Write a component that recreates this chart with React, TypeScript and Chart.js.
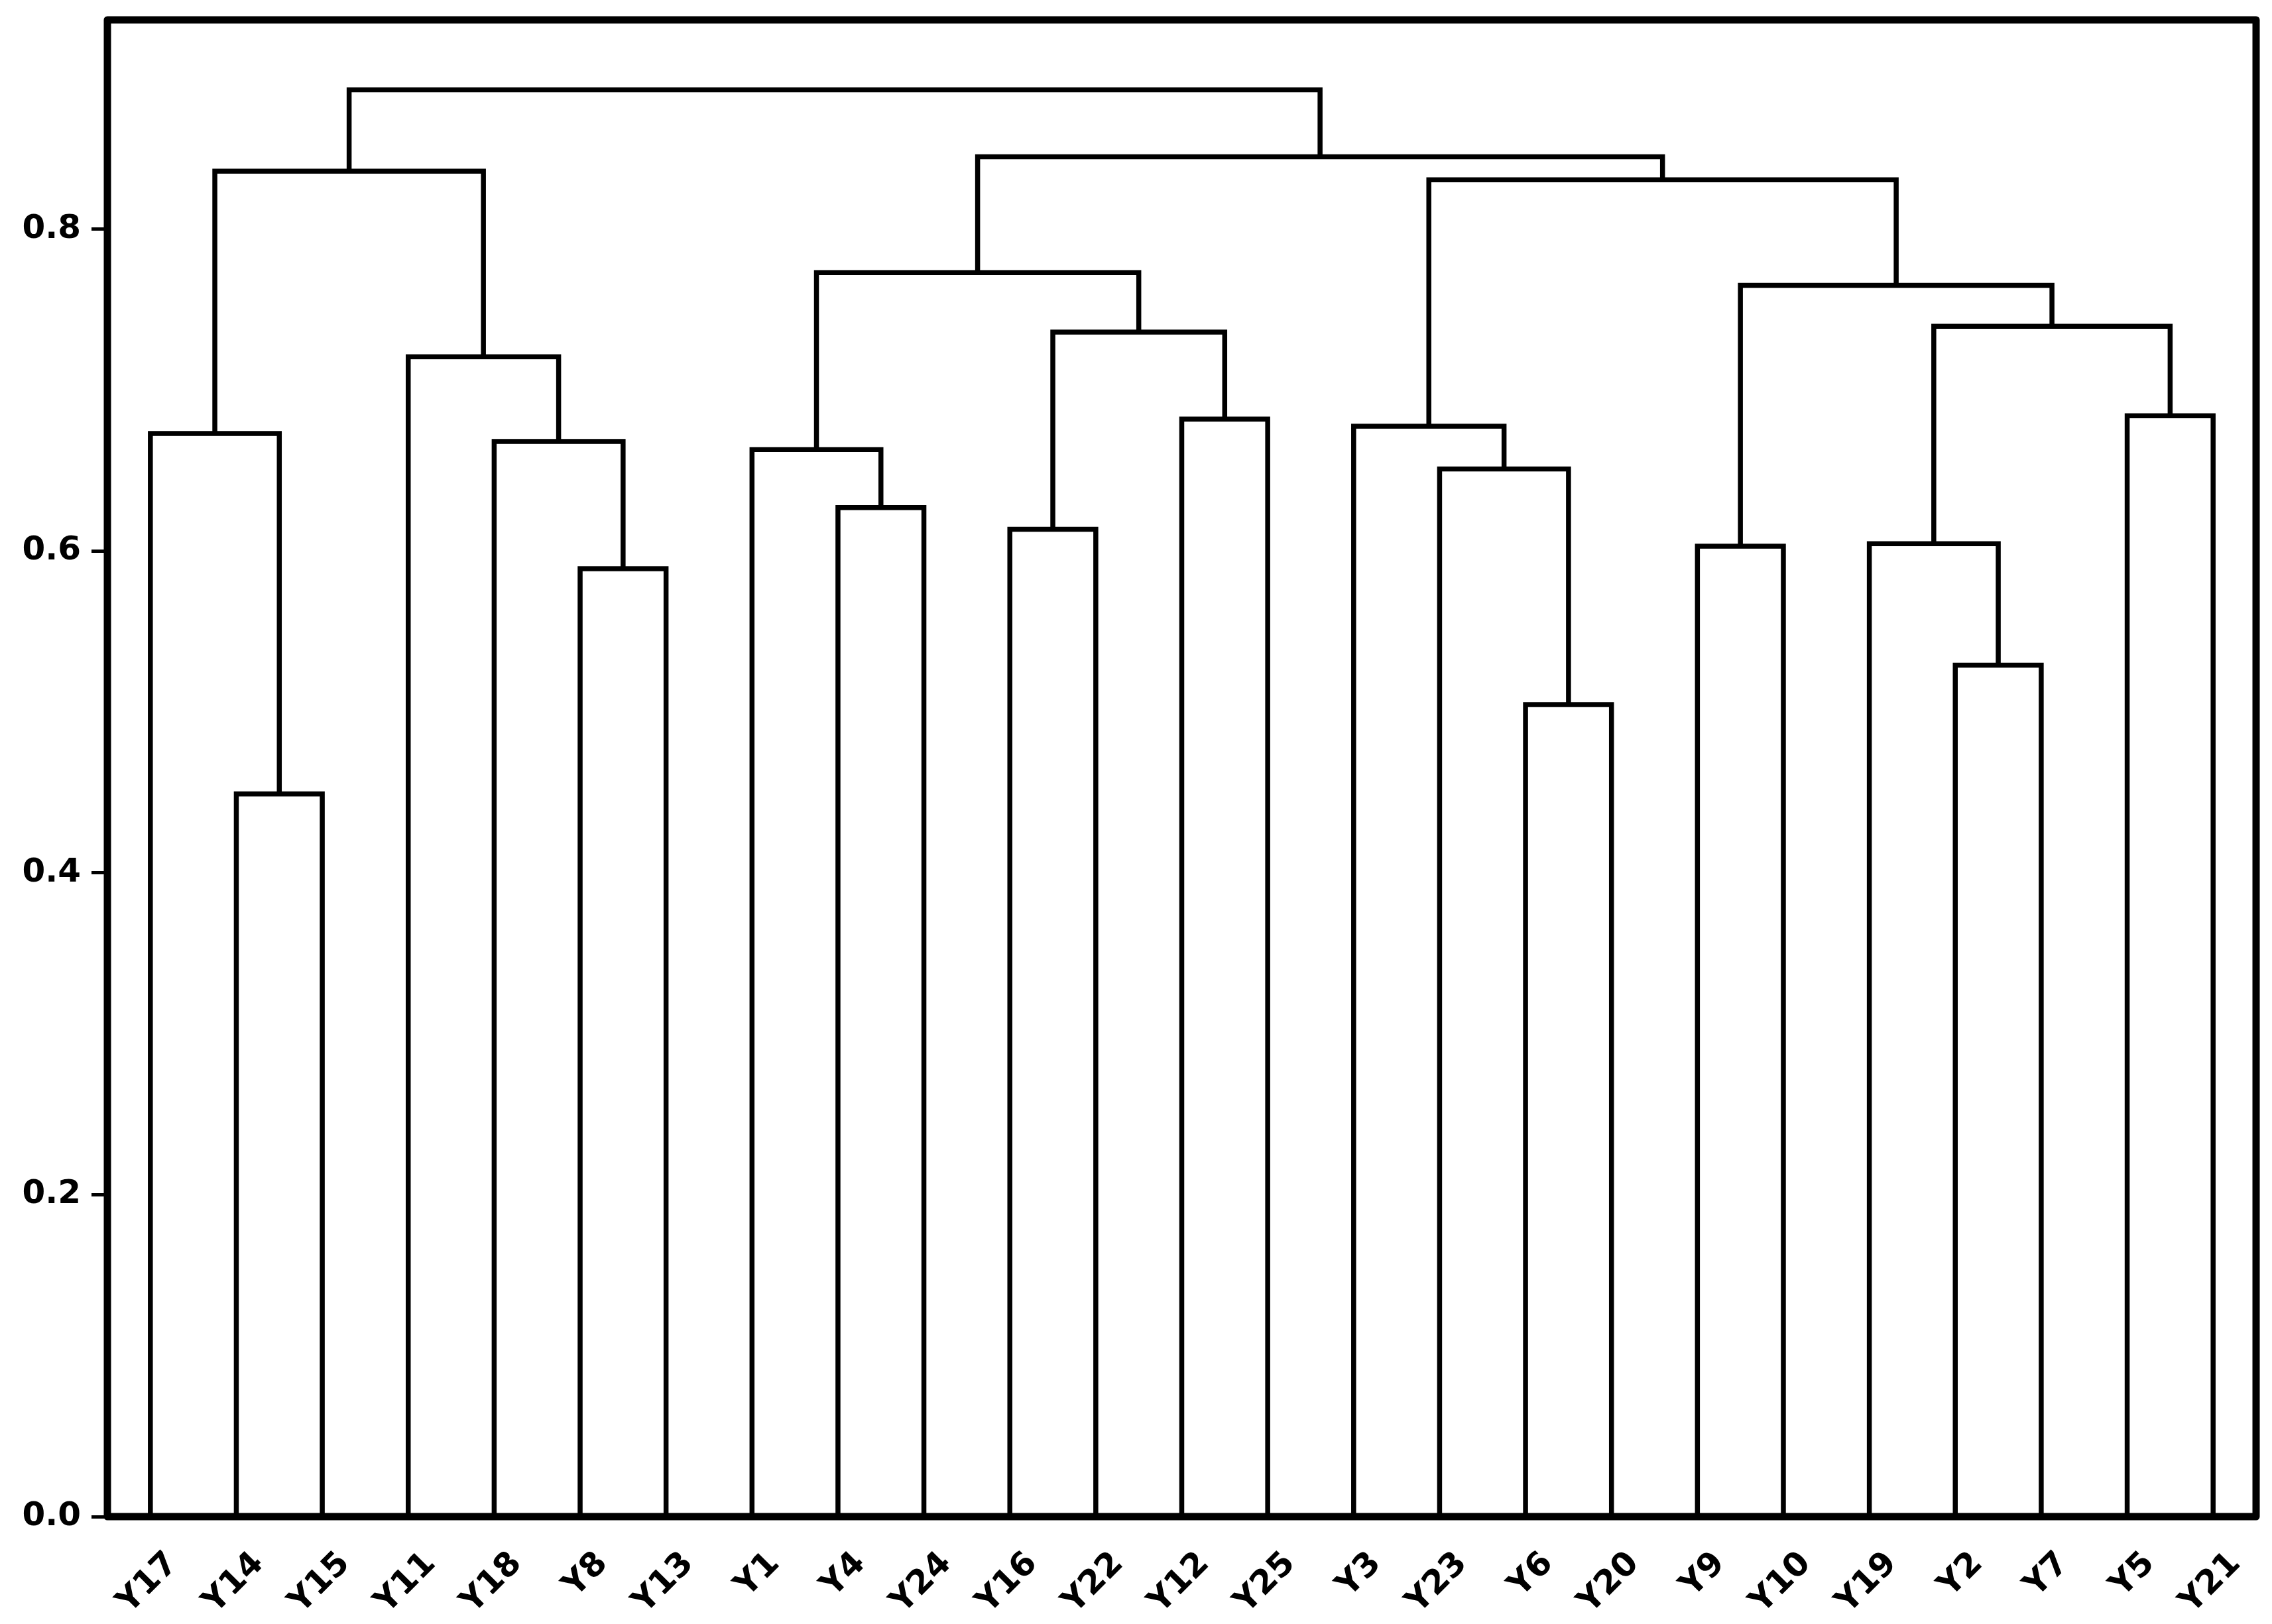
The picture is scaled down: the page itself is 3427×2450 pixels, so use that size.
import React, { useEffect, useRef } from "react";
import { Chart, registerables } from "chart.js";

Chart.register(...registerables);

// Leaves in dendrogram order
const leafLabels = [
  "Y17", "Y14", "Y15", "Y11", "Y18", "Y8", "Y13", "Y1", "Y4", "Y24", "Y16", "Y22", "Y12",
  "Y25", "Y3", "Y23", "Y6", "Y20", "Y9", "Y10", "Y19", "Y2", "Y7", "Y5", "Y21",
];

// Linkage (scipy style): leaves 0..24, merged clusters numbered from 25 upward
const mergeLeft = [1, 16, 21, 5, 18, 20, 10, 8, 15, 7, 4, 0, 14, 12, 23, 3, 31, 30, 29, 34, 37, 36, 44, 46];
const mergeRight = [2, 17, 22, 6, 19, 27, 11, 9, 26, 32, 28, 25, 33, 13, 24, 35, 38, 39, 42, 41, 43, 40, 45, 47];
const mergeHeights = [
  0.449, 0.5045, 0.529, 0.589, 0.603, 0.6045, 0.6135, 0.627, 0.651, 0.663, 0.668, 0.673,
  0.6775, 0.682, 0.684, 0.7207, 0.736, 0.7396, 0.765, 0.773, 0.8306, 0.836, 0.845, 0.8865,
];

const yTickValues = [0, 0.2, 0.4, 0.6, 0.8];
const yMax = 0.93;

const FONT = { family: "'DejaVu Sans', sans-serif", size: 50, weight: "bold" as const };

const framePlugin = {
  id: "frame",
  afterDatasetsDraw(chart: any) {
    const { ctx, chartArea } = chart;
    const { left, top, right, bottom } = chartArea;
    ctx.save();
    ctx.strokeStyle = "#000";
    ctx.lineWidth = 11;
    ctx.lineJoin = "round";
    ctx.strokeRect(left, top, right - left, bottom - top);
    ctx.restore();
  },
};

export default function App() {
  const ref = useRef<HTMLCanvasElement>(null);

  useEffect(() => {
    const n = leafLabels.length;
    const leafPos = leafLabels.map((_, i) => 5 + 10 * i);
    const nodeX: number[] = [...leafPos];
    const nodeY: number[] = leafLabels.map(() => 0);
    const datasets = mergeHeights.map((h, k) => {
      const a = mergeLeft[k];
      const b = mergeRight[k];
      const xa = nodeX[a];
      const xb = nodeX[b];
      const ya = nodeY[a];
      const yb = nodeY[b];
      nodeX.push((xa + xb) / 2);
      nodeY.push(h);
      return {
        data: [
          { x: xa, y: ya },
          { x: xa, y: h },
          { x: xb, y: h },
          { x: xb, y: yb },
        ],
        showLine: true,
        borderColor: "#000",
        borderWidth: 7.5,
        borderJoinStyle: "miter" as const,
        pointRadius: 0,
        fill: false,
      };
    });

    const chart = new Chart(ref.current as HTMLCanvasElement, {
      type: "scatter",
      data: { datasets },
      plugins: [framePlugin],
      options: {
        animation: false,
        responsive: true,
        maintainAspectRatio: false,
        layout: { padding: { top: 30, right: 24, left: 0, bottom: 0 } },
        plugins: { legend: { display: false }, tooltip: { enabled: false } },
        scales: {
          x: {
            type: "linear",
            min: 0,
            max: n * 10,
            afterBuildTicks: (scale: any) => {
              scale.ticks = leafPos.map((v) => ({ value: v }));
            },
            afterFit: (scale: any) => {
              scale.height = 162;
              scale.paddingLeft = 0;
              scale.paddingRight = 0;
            },
            grid: { display: false, drawTicks: false },
            border: { display: false },
            ticks: {
              autoSkip: false,
              minRotation: 45,
              maxRotation: 45,
              padding: 42,
              labelOffset: 34,
              color: "#000",
              font: FONT,
              callback: (v: any) => {
                const i = leafPos.indexOf(Number(v));
                return i >= 0 ? leafLabels[i] : "";
              },
            },
          },
          y: {
            type: "linear",
            min: 0,
            max: yMax,
            afterBuildTicks: (scale: any) => {
              scale.ticks = yTickValues.map((v) => ({ value: v }));
            },
            afterFit: (scale: any) => {
              scale.width = 162;
              scale.paddingTop = 0;
              scale.paddingBottom = 0;
            },
            grid: {
              drawOnChartArea: false,
              drawTicks: true,
              tickLength: 24,
              tickWidth: 5,
              tickColor: "#000",
              color: "#000",
            },
            border: { display: false },
            ticks: {
              padding: 16,
              color: "#000",
              font: FONT,
              callback: (v: any) => Number(v).toFixed(1),
            },
          },
        },
      },
    });
    return () => chart.destroy();
  }, []);

  return (
    <div
      style={{
        position: "fixed",
        left: 0,
        top: 0,
        width: "3427px",
        height: "2450px",
        background: "#fff",
      }}
    >
      <canvas ref={ref} style={{ display: "block" }} />
    </div>
  );
}
